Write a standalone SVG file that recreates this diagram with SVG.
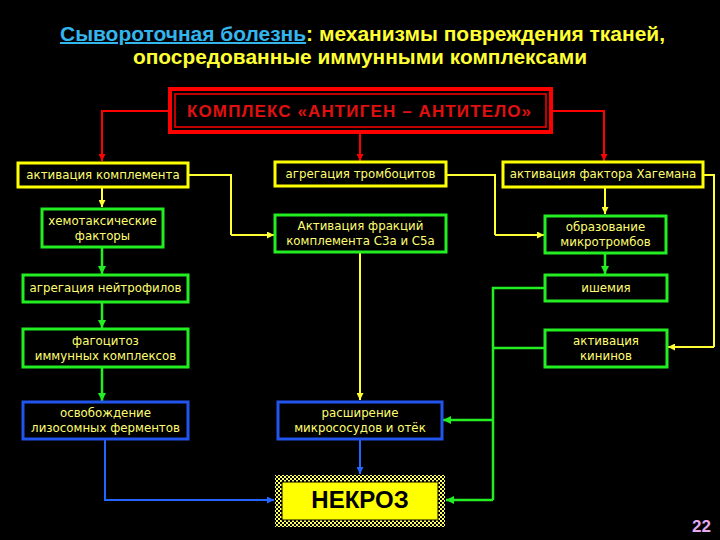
<svg xmlns="http://www.w3.org/2000/svg" width="720" height="540" viewBox="0 0 720 540">
<defs>
<style>
.t{font-family:"DejaVu Sans","Liberation Sans",sans-serif;font-size:11.8px;fill:#ffff70;text-anchor:middle}
.ttl{font-family:"Liberation Sans",Arial,sans-serif;font-weight:bold;font-size:20px;fill:#ffff33}
.yb{fill:#000;stroke:#ffff00;stroke-width:3}
.gb{fill:#000;stroke:#22ee22;stroke-width:3}
.bb{fill:#000;stroke:#2255ee;stroke-width:3}
.cr{fill:none;stroke:#ff0000;stroke-width:2;marker-end:url(#ar)}
.cy{fill:none;stroke:#ffff33;stroke-width:2;marker-end:url(#ay)}
.cyn{fill:none;stroke:#ffff33;stroke-width:2}
.cg{fill:none;stroke:#22ee22;stroke-width:2.5;marker-end:url(#ag)}
.cgn{fill:none;stroke:#22ee22;stroke-width:2.5}
.cb{fill:none;stroke:#2266ff;stroke-width:2;marker-end:url(#ab)}
</style>
<marker id="ar" viewBox="0 0 10 10" refX="10" refY="5" markerWidth="7" markerHeight="7" markerUnits="userSpaceOnUse" orient="auto"><path d="M0,0L10,5L0,10z" fill="#ff0000"/></marker>
<marker id="ay" viewBox="0 0 10 10" refX="10" refY="5" markerWidth="7" markerHeight="7" markerUnits="userSpaceOnUse" orient="auto"><path d="M0,0L10,5L0,10z" fill="#ffff33"/></marker>
<marker id="ag" viewBox="0 0 10 10" refX="10" refY="5" markerWidth="8" markerHeight="8" markerUnits="userSpaceOnUse" orient="auto"><path d="M0,0L10,5L0,10z" fill="#22ee22"/></marker>
<marker id="ab" viewBox="0 0 10 10" refX="10" refY="5" markerWidth="7" markerHeight="7" markerUnits="userSpaceOnUse" orient="auto"><path d="M0,0L10,5L0,10z" fill="#2266ff"/></marker>
<pattern id="chk" width="4" height="4" patternUnits="userSpaceOnUse"><rect width="4" height="4" fill="#000"/><rect width="2" height="2" fill="#ffff66"/><rect x="2" y="2" width="2" height="2" fill="#ffff66"/></pattern>
</defs>
<rect width="720" height="540" fill="#000"/>

<g id="title">
<text class="ttl" x="60" y="41" textLength="605" lengthAdjust="spacingAndGlyphs"><tspan fill="#33b5ee" text-decoration="underline">Сывороточная болезнь</tspan>: механизмы повреждения тканей,</text>
<text class="ttl" x="133" y="64" textLength="454" lengthAdjust="spacingAndGlyphs">опосредованные иммунными комплексами</text>
</g>

<g id="connectors">
<path class="cr" d="M170,111H102V161"/>
<path class="cr" d="M360,133V161"/>
<path class="cr" d="M552,111H604V161"/>
<path class="cy" d="M102,187V207"/>
<path class="cyn" d="M188,175H231V235"/>
<path class="cy" d="M231,235H274"/>
<path class="cyn" d="M446,175H495V235"/>
<path class="cy" d="M495,235H544"/>
<path class="cy" d="M605,187V214"/>
<path class="cyn" d="M703,175H714V347"/>
<path class="cy" d="M714,347H668"/>
<path class="cy" d="M360,253V400"/>
<path class="cg" d="M102,247V274"/>
<path class="cg" d="M102,302V328"/>
<path class="cg" d="M102,367V401"/>
<path class="cg" d="M605,253V274"/>
<path class="cgn" d="M545,288H493V500"/>
<path class="cgn" d="M545,348H493"/>
<path class="cg" d="M493,420H443"/>
<path class="cg" d="M493,500H446"/>
<path class="cb" d="M105,439V500H274"/>
<path class="cb" d="M360,439V474"/>
</g>

<g id="n-complex">
<rect x="170" y="89" width="381" height="43" fill="#000" stroke="#ff0000" stroke-width="4"/>
<rect x="175" y="94" width="371" height="33" fill="none" stroke="#ff0000" stroke-width="1.5"/>
<text x="187" y="117" font-family="Liberation Sans,Arial,sans-serif" font-weight="bold" font-size="17" fill="#e01010" textLength="344" lengthAdjust="spacing">КОМПЛЕКС «АНТИГЕН – АНТИТЕЛО»</text>
</g>

<g id="n-compl"><rect class="yb" x="18" y="163" width="170" height="24"/><text class="t" x="103" y="179">активация комплемента</text></g>
<g id="n-tromb"><rect class="yb" x="275" y="162" width="171" height="24"/><text class="t" x="360.5" y="178">агрегация тромбоцитов</text></g>
<g id="n-hag"><rect class="yb" x="503" y="162" width="200" height="25"/><text class="t" x="603" y="178">активация фактора Хагемана</text></g>

<g id="n-chemo"><rect class="gb" x="42" y="209" width="121" height="38"/><text class="t" x="102.5" y="225">хемотаксические</text><text class="t" x="102.5" y="240">факторы</text></g>
<g id="n-frac"><rect class="gb" x="275" y="215" width="171" height="37"/><text class="t" x="360.5" y="230">Активация фракций</text><text class="t" x="360.5" y="245">комплемента  С3а и С5а</text></g>
<g id="n-micro"><rect class="gb" x="545" y="216" width="121" height="37"/><text class="t" x="605.5" y="231">образование</text><text class="t" x="605.5" y="246">микротромбов</text></g>

<g id="n-neut"><rect class="gb" x="23" y="275" width="165" height="27"/><text class="t" x="105.5" y="292">агрегация нейтрофилов</text></g>
<g id="n-isch"><rect class="gb" x="545" y="275" width="122" height="26"/><text class="t" x="606" y="292">ишемия</text></g>

<g id="n-phago"><rect class="gb" x="23" y="329" width="165" height="38"/><text class="t" x="105.5" y="345">фагоцитоз</text><text class="t" x="105.5" y="360">иммунных комплексов</text></g>
<g id="n-kinin"><rect class="gb" x="545" y="330" width="122" height="37"/><text class="t" x="606" y="345">активация</text><text class="t" x="606" y="360">кининов</text></g>

<g id="n-lyso"><rect class="bb" x="23" y="402" width="165" height="37"/><text class="t" x="105.5" y="417">освобождение</text><text class="t" x="105.5" y="432">лизосомных ферментов</text></g>
<g id="n-dil"><rect class="bb" x="278" y="402" width="164" height="37"/><text class="t" x="360" y="417">расширение</text><text class="t" x="360" y="432">микрососудов и отёк</text></g>

<g id="n-necro">
<rect x="275" y="475" width="170" height="52" fill="url(#chk)"/>
<rect x="282" y="482" width="156" height="38" fill="#ffff00" stroke="#000" stroke-width="1"/>
<text x="360" y="508" font-family="Liberation Sans,Arial,sans-serif" font-weight="bold" font-size="24" fill="#000" text-anchor="middle">НЕКРОЗ</text>
</g>

<text x="711" y="532" font-family="Liberation Sans,Arial,sans-serif" font-weight="bold" font-size="17" fill="#e6a8f0" text-anchor="end">22</text>
</svg>
